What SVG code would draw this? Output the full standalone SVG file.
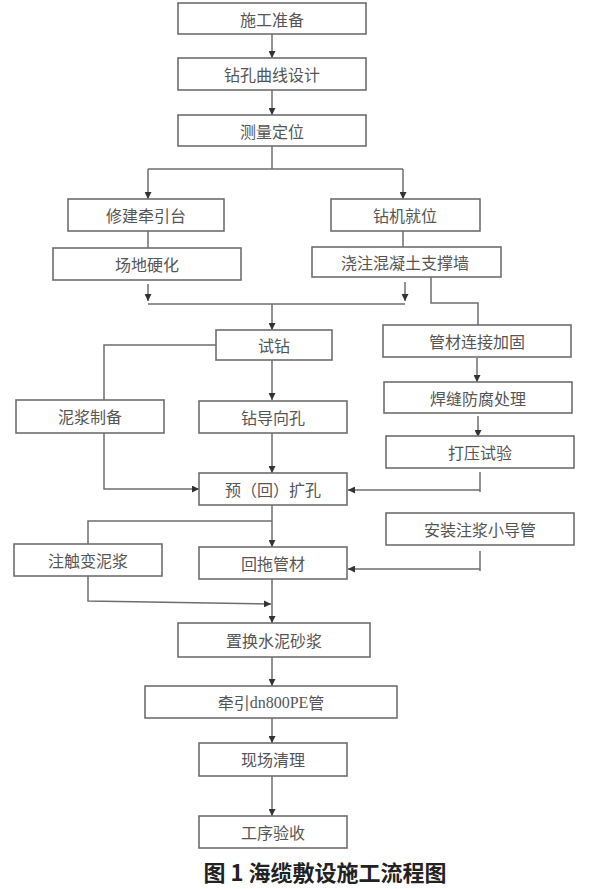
<svg xmlns="http://www.w3.org/2000/svg" width="593" height="889" viewBox="0 0 593 889">
<style>
.box rect{fill:#fff;stroke:#6e6e6e;stroke-width:1.6}
.box text{font-family:"Noto Sans CJK SC","Noto Sans",sans-serif;font-size:16px;fill:#555;text-anchor:middle;dominant-baseline:central}
.lat{font-family:"Liberation Serif",serif}
#connectors path{fill:none;stroke:#6e6e6e;stroke-width:1.5}
.cap{font-family:"Noto Sans CJK SC","Noto Sans",sans-serif;font-size:22px;font-weight:bold;fill:#222;text-anchor:middle}
</style>
<defs>
<marker id="ah" viewBox="0 0 10 10" refX="10" refY="5" markerWidth="7" markerHeight="7" markerUnits="userSpaceOnUse" orient="auto">
<path d="M0,0 L10,5 L0,10 z" fill="#333"/>
</marker>
</defs>
<rect width="593" height="889" fill="#fff"/>
<g id="connectors">
<path d="M272,34 V58" marker-end="url(#ah)"/>
<path d="M272,90 V115" marker-end="url(#ah)"/>
<path d="M272,146 V169"/>
<path d="M148,169 H403"/>
<path d="M148,169 V199" marker-end="url(#ah)"/>
<path d="M403,169 V199" marker-end="url(#ah)"/>
<path d="M148,231 V248"/>
<path d="M403,231 V247"/>
<path d="M148,284 V301" marker-end="url(#ah)"/>
<path d="M405,282 V301" marker-end="url(#ah)"/>
<path d="M148,304 H405"/>
<path d="M272,304 V330" marker-end="url(#ah)"/>
<path d="M431,277 V303 H478 V325"/>
<path d="M216,345 H104 V400"/>
<path d="M272,360 V400" marker-end="url(#ah)"/>
<path d="M477,358 V382" marker-end="url(#ah)"/>
<path d="M478,416 V437" marker-end="url(#ah)"/>
<path d="M104,433 V489 H199" marker-end="url(#ah)"/>
<path d="M272,433 V473" marker-end="url(#ah)"/>
<path d="M480,472 V492"/>
<path d="M480,490 H348" marker-end="url(#ah)"/>
<path d="M272,505 V547" marker-end="url(#ah)"/>
<path d="M272,521 H88 V544"/>
<path d="M480,551 V571"/>
<path d="M480,569 H348" marker-end="url(#ah)"/>
<path d="M88,576 V601 L271,604" marker-end="url(#ah)"/>
<path d="M272,579 V623" marker-end="url(#ah)"/>
<path d="M272,657 V686" marker-end="url(#ah)"/>
<path d="M272,718 V743" marker-end="url(#ah)"/>
<path d="M272,776 V816" marker-end="url(#ah)"/>
</g>
<g id="n1" class="box"><rect x="178" y="3" width="188" height="31"/><text x="272" y="19">施工准备</text></g>
<g id="n2" class="box"><rect x="178" y="58" width="188" height="32"/><text x="272" y="74">钻孔曲线设计</text></g>
<g id="n3" class="box"><rect x="178" y="115" width="188" height="31"/><text x="272" y="131">测量定位</text></g>
<g id="n4" class="box"><rect x="68" y="199" width="156" height="32"/><text x="146" y="215">修建牵引台</text></g>
<g id="n5" class="box"><rect x="53" y="248" width="188" height="32"/><text x="147" y="264">场地硬化</text></g>
<g id="n6" class="box"><rect x="331" y="199" width="149" height="32"/><text x="405" y="215">钻机就位</text></g>
<g id="n7" class="box"><rect x="312" y="247" width="189" height="30"/><text x="405" y="262">浇注混凝土支撑墙</text></g>
<g id="n8" class="box"><rect x="216" y="330" width="116" height="30"/><text x="274" y="345">试钻</text></g>
<g id="n9" class="box"><rect x="383" y="325" width="188" height="32"/><text x="477" y="341">管材连接加固</text></g>
<g id="n10" class="box"><rect x="16" y="400" width="148" height="33"/><text x="90" y="416">泥浆制备</text></g>
<g id="n11" class="box"><rect x="199" y="401" width="148" height="32"/><text x="273" y="417">钻导向孔</text></g>
<g id="n12" class="box"><rect x="384" y="382" width="188" height="31"/><text x="478" y="398">焊缝防腐处理</text></g>
<g id="n13" class="box"><rect x="386" y="436" width="188" height="32"/><text x="480" y="452">打压试验</text></g>
<g id="n14" class="box"><rect x="199" y="473" width="148" height="32"/><text x="273" y="489">预（回）扩孔</text></g>
<g id="n15" class="box"><rect x="386" y="513" width="188" height="32"/><text x="480" y="529">安装注浆小导管</text></g>
<g id="n16" class="box"><rect x="14" y="544" width="148" height="32"/><text x="88" y="560">注触变泥浆</text></g>
<g id="n17" class="box"><rect x="199" y="547" width="148" height="32"/><text x="273" y="563">回拖管材</text></g>
<g id="n18" class="box"><rect x="178" y="623" width="192" height="34"/><text x="274" y="640">置换水泥砂浆</text></g>
<g id="n19" class="box"><rect x="145" y="686" width="252" height="32"/><text x="271" y="702">牵引<tspan class="lat">dn800PE</tspan>管</text></g>
<g id="n20" class="box"><rect x="199" y="743" width="148" height="33"/><text x="273" y="759">现场清理</text></g>
<g id="n21" class="box"><rect x="199" y="816" width="148" height="32"/><text x="273" y="832">工序验收</text></g>
<text class="cap" x="325" y="881">图 1 海缆敷设施工流程图</text>
</svg>
